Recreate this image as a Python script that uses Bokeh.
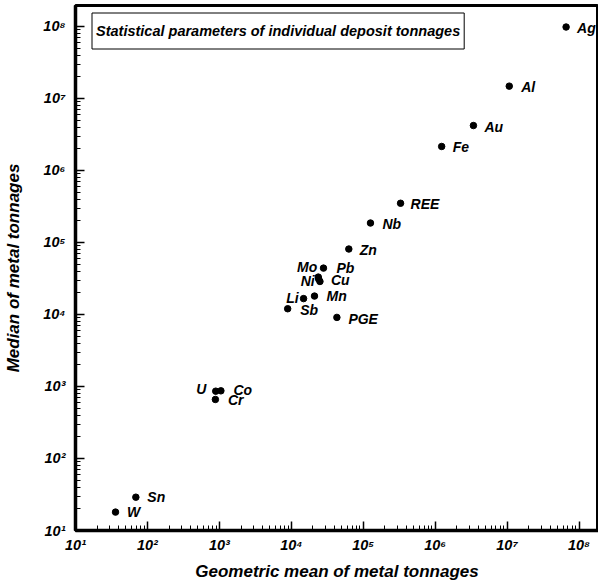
from bokeh.plotting import figure
from bokeh.models import ColumnDataSource, Range1d, Label, FixedTicker
from bokeh.core.properties import value
from bokeh.embed import file_html
from bokeh.resources import INLINE

# ---- data ----
metals = ["Ag", "Al", "Au", "Fe", "REE", "Nb", "Zn", "Pb", "Mo", "Ni", "Cu",
          "Mn", "Li", "Sb", "PGE", "U", "Co", "Cr", "Sn", "W"]
geo_mean = [6.6e7, 1.07e7, 3.4e6, 1.23e6, 3.3e5, 1.26e5, 6.3e4, 2.8e4, 2.37e4,
            2.4e4, 2.5e4, 2.1e4, 1.48e4, 8.9e3, 4.3e4, 8.9e2, 1.05e3, 8.8e2, 69, 36]
median = [9.8e7, 1.48e7, 4.2e6, 2.15e6, 3.5e5, 1.86e5, 8.1e4, 4.4e4, 3.3e4,
          3.1e4, 2.87e4, 1.8e4, 1.66e4, 1.2e4, 9.1e3, 8.6e2, 8.7e2, 6.6e2, 29, 18]

tick_values = [10, 100, 1000, 10**4, 10**5, 10**6, 10**7, 10**8]
tick_labels = ["10\u00b9", "10\u00b2", "10\u00b3", "10\u2074", "10\u2075",
               "10\u2076", "10\u2077", "10\u2078"]

title_text = "Statistical parameters of individual deposit tonnages"
x_title = "Geometric mean of metal tonnages"
y_title = "Median of metal tonnages"

# label placement (screen px offsets, alignment)
label_dx = [11, 12, 11, 11, 10, 12, 11, 13, -1, -4, 11, 12, -5, 12.5, 11.5, -9.5, 12.5, 12.5, 11.5, 11.5]
label_dy = [1, 1, 1, 1, 1, 1, 1, 0, -10, 1.5, -1.5, 0, -0.5, 1.5, 1.5, -2.5, -1, 0.5, 0, 0]
label_align = ["left", "left", "left", "left", "left", "left", "left", "left", "right",
               "right", "left", "left", "right", "left", "left", "right", "left", "left",
               "left", "left"]

src = ColumnDataSource(dict(x=geo_mean, y=median, name=metals,
                            dx=label_dx, dy=label_dy, align=label_align))

FONT = "Liberation Sans"

p = figure(width=598, height=583, x_axis_type="log", y_axis_type="log",
           x_range=Range1d(10, 10**8.27), y_range=Range1d(10, 10**8.29),
           output_backend="svg", toolbar_location=None,
           min_border_left=75, min_border_right=0, min_border_top=5, min_border_bottom=53)

p.background_fill_color = "white"
p.border_fill_color = "white"
p.xgrid.visible = False
p.ygrid.visible = False
p.outline_line_color = "black"
p.outline_line_width = 3
p.outline_line_alpha = 1.0

minor = [m * 10**k for k in range(1, 9) for m in range(2, 10)]
for ax in (p.xaxis[0], p.yaxis[0]):
    ax.ticker = FixedTicker(ticks=tick_values, minor_ticks=minor)
    ax.major_label_overrides = {v: t for v, t in zip(tick_values, tick_labels)}
    ax.axis_line_width = 3.5
    ax.axis_line_color = "black"
    ax.major_tick_in = 9
    ax.major_tick_out = 0
    ax.minor_tick_in = 5
    ax.minor_tick_out = 0
    ax.major_tick_line_width = 1.5
    ax.minor_tick_line_width = 1
    ax.major_tick_line_color = "black"
    ax.minor_tick_line_color = "black"
    ax.major_label_text_font = FONT
    ax.major_label_text_font_style = "bold italic"
    ax.major_label_text_font_size = "14.5px"
    ax.major_label_text_color = "black"
    ax.axis_label_text_font = FONT
    ax.axis_label_text_font_style = "bold italic"
    ax.axis_label_text_font_size = "17px"
    ax.axis_label_text_color = "black"

p.xaxis.axis_label = x_title
p.yaxis.axis_label = y_title
p.xaxis.major_label_standoff = 6
p.yaxis.major_label_standoff = 10
p.xaxis.axis_label_standoff = 6
p.yaxis.axis_label_standoff = 17

p.scatter(x="x", y="y", source=src, size=6.5, color="black")
p.text(x="x", y="y", text="name", source=src, x_offset="dx", y_offset="dy",
       text_align="align", text_baseline="middle",
       text_font=value(FONT), text_font_style="bold italic",
       text_font_size="14px", text_color="black")

title_label = Label(x=16.5, y=517.5, x_units="screen", y_units="screen",
                    text=title_text, anchor="top_left",
                    text_font=FONT, text_font_style="bold italic", text_font_size="14.5px",
                    text_color="black", border_line_color="black", border_line_width=1,
                    background_fill_color="white", padding=(4, 10))
p.add_layout(title_label)

open("out.html", "w").write(file_html(p, INLINE))
